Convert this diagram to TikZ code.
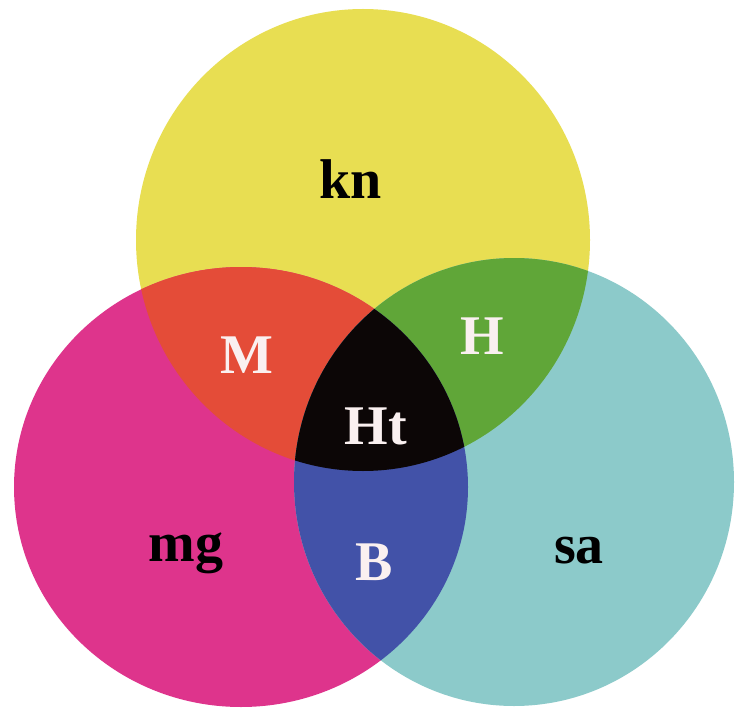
\documentclass[tikz,border=0pt]{standalone}
\usepackage{fontspec}
\setmainfont{Liberation Serif}
\definecolor{cyel}{RGB}{232,222,82}
\definecolor{cmag}{RGB}{222,52,140}
\definecolor{ccya}{RGB}{140,202,202}
\definecolor{cred}{RGB}{228,76,56}
\definecolor{cgrn}{RGB}{96,166,56}
\definecolor{cblu}{RGB}{66,82,168}
\definecolor{cblk}{RGB}{12,6,6}
\definecolor{cpale}{RGB}{250,240,240}
\begin{document}
\begin{tikzpicture}[x=1pt,y=-1pt,
  lbl/.style={font=\fontsize{56}{56}\selectfont\bfseries},
  dark/.style={lbl,text=black},
  light/.style={lbl,text=cpale}]
\useasboundingbox[fill=white] (0,0) rectangle (738,711);
\def\Ypath{(363,240) ellipse [x radius=227, y radius=231]}
\def\Mpath{(241,487) ellipse [x radius=227, y radius=220]}
\def\Cpath{(514,482) ellipse [x radius=220, y radius=224]}
\fill[cyel] \Ypath;
\fill[cmag] \Mpath;
\fill[ccya] \Cpath;
\begin{scope}
  \clip \Ypath; \fill[cred] \Mpath;
\end{scope}
\begin{scope}
  \clip \Ypath; \fill[cgrn] \Cpath;
\end{scope}
\begin{scope}
  \clip \Mpath; \fill[cblu] \Cpath;
\end{scope}
\begin{scope}
  \clip \Ypath; \clip \Mpath; \fill[cblk] \Cpath;
\end{scope}
\node[dark]  (kn) at (351,179) {kn};
\node[dark]  (mg) at (186,553) {mg};
\node[dark]  (sa) at (579,551) {sa};
\node[light] (M)  at (247,355) {M};
\node[light] (H)  at (482,336) {H};
\node[light] (Ht) at (376,426) {Ht};
\node[light] (B)  at (374,562) {B};
\end{tikzpicture}
\end{document}
